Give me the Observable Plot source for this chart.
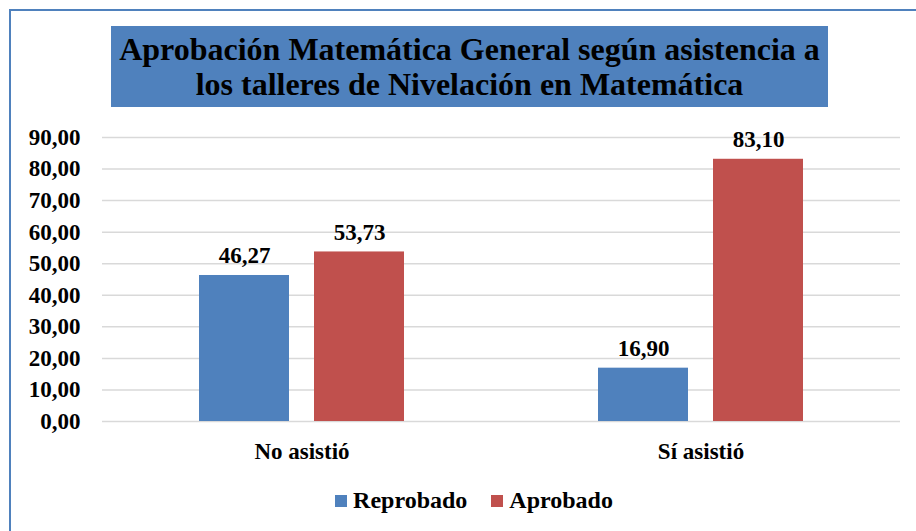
<!DOCTYPE html>
<html>
<head>
<meta charset="utf-8">
<script src="https://cdn.jsdelivr.net/npm/d3@7"></script>
<script src="https://cdn.jsdelivr.net/npm/@observablehq/plot@0.6"></script>
<style>
  body { margin: 0; background: #fff; }
  #wrap { position: relative; width: 916px; height: 531px; overflow: hidden; font-family: "Liberation Serif", "DejaVu Serif", serif; }
  #frame { position: absolute; left: 9px; top: 9px; width: 940px; height: 560px; border: 2px solid #4F81BD; box-sizing: border-box; }
  #title { position: absolute; left: 111px; top: 26px; width: 717px; height: 81px; background: #4F81BD; color: #000;
           font-weight: bold; font-size: 32px; line-height: 35px; text-align: center; display: flex; align-items: center; justify-content: center; }
  #chart { position: absolute; left: 0; top: 0; }
  #legend { position: absolute; left: 16px; top: 487px; width: 916px; display: flex; justify-content: center; align-items: center;
            font-weight: bold; font-size: 24px; color: #000; }
  .item { display: flex; align-items: center; margin: 0 12px; }
  .sw { width: 12px; height: 12px; margin-right: 6px; }
</style>
</head>
<body>
<div id="wrap">
  <div id="frame"></div>
  <div id="chart"></div>
  <div id="title"><div>Aprobación Matemática General según asistencia a<br>los talleres de Nivelación en Matemática</div></div>
  <div id="legend"></div>
</div>
<script>
const categories = ["No asistió", "Sí asistió"];
const series = ["Reprobado", "Aprobado"];
const reprobado = [46.27, 16.90];
const aprobado = [53.73, 83.10];
const colors = ["#4F81BD", "#C0504D"];
const yTicks = [0, 10, 20, 30, 40, 50, 60, 70, 80, 90];

const data = [];
categories.forEach((c, i) => {
  data.push({cat: c, serie: series[0], value: reprobado[i]});
  data.push({cat: c, serie: series[1], value: aprobado[i]});
});
const fmt = v => d3.format(".2f")(v).replace(".", ",");

const plot = Plot.plot({
  width: 916,
  height: 470,
  marginLeft: 102,
  marginRight: 16,
  marginTop: 137,
  marginBottom: 49,
  style: {fontFamily: "'Liberation Serif', 'DejaVu Serif', serif", fontWeight: "bold", fontSize: "23px", color: "#000", background: "transparent"},
  fx: {domain: categories, padding: 0, label: null, tickSize: 0, tickPadding: 21},
  x: {domain: series, paddingInner: 0.217, paddingOuter: 0.843, axis: null},
  y: {domain: [0, 90], ticks: yTicks, tickFormat: fmt, label: null, tickSize: 0, tickPadding: 22},
  color: {domain: series, range: colors},
  marks: [
    Plot.gridY(yTicks, {stroke: "#d9d9d9", strokeOpacity: 1, strokeWidth: 1.5}),
    Plot.barY(data, {fx: "cat", x: "serie", y: "value", fill: "serie"}),
    Plot.text(data, {fx: "cat", x: "serie", y: "value", text: d => fmt(d.value), lineAnchor: "bottom", dy: -12, fontSize: 23, fontWeight: "bold", fill: "#000"})
  ]
});
document.getElementById("chart").appendChild(plot);

const leg = document.getElementById("legend");
series.forEach((s, i) => {
  const it = document.createElement("div");
  it.className = "item";
  it.innerHTML = `<span class="sw" style="background:${colors[i]}"></span><span>${s}</span>`;
  leg.appendChild(it);
});
</script>
</body>
</html>
